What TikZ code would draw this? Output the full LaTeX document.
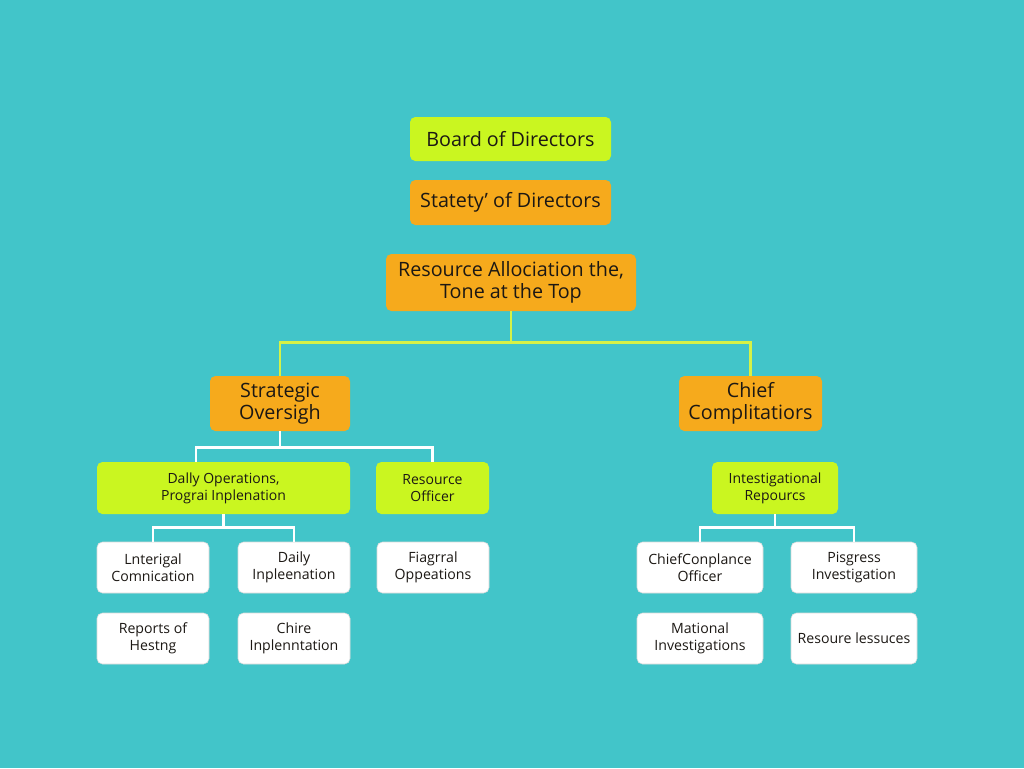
\documentclass[tikz,border=0pt]{standalone}
\usepackage{fontspec}
\setmainfont{Open Sans}
\definecolor{bg}{RGB}{66,197,201}
\definecolor{orng}{RGB}{246,170,28}
\definecolor{lime}{RGB}{202,246,32}
\definecolor{limeline}{RGB}{214,242,70}
\definecolor{txt}{RGB}{28,24,20}
\tikzset{
  bx/.style 2 args={rectangle, rounded corners=4pt, minimum width=#1*0.75pt, minimum height=#2*0.75pt, inner sep=1pt, align=center, text=txt},
  obox/.style={fill=orng},
  lbox/.style={fill=lime},
  wbox/.style={fill=white, draw=white!85!black, line width=0.4pt, font=\fontsize{10.6}{12.8}\selectfont},
  big/.style={font=\fontsize{14.8}{16.5}\selectfont},
  mid/.style={font=\fontsize{10.5}{12.8}\selectfont},
  yconn/.style={draw=limeline, line width=2.2pt},
  wconn/.style={draw=white, line width=2pt},
}
\begin{document}
\begin{tikzpicture}[x=0.75pt,y=-0.75pt]
\fill[bg] (0,0) rectangle (1024,768);
\useasboundingbox (0,0) rectangle (1024,768);
% top column
\node[bx={201}{44}, lbox, big] (board) at (510.5,139) {Board of Directors};
\node[bx={201}{45}, obox, big] (stat) at (510.5,202.5) {Statety' of Directors};
\node[bx={250}{57}, obox, big] (res) at (511,282.5) {Resource Allociation the,\\Tone at the Top};
% level 2
\node[bx={140}{55}, obox, big] (strat) at (280,403.5) {Strategic\\Oversigh};
\node[bx={143}{55}, obox, big] (chief) at (750.5,403.5) {Chief\\Complitatiors};
% level 3
\node[bx={253}{52}, lbox, mid] (daily) at (223.5,488) {Dally Operations,\\Prograi Inplenation};
\node[bx={113}{52}, lbox, mid] (resoff) at (432.5,488) {Resource\\Officer};
\node[bx={126}{52}, lbox, mid] (invest) at (775,488) {Intestigational\\Repourcs};
% level 4
\node[bx={112}{51}, wbox] (lnt) at (153,567.5) {Lnterigal\\Comnication};
\node[bx={112}{51}, wbox] (dimp) at (294,567.5) {Daily\\Inpleenation};
\node[bx={112}{51}, wbox] (fia) at (433,567.5) {Fiagrral\\Oppeations};
\node[bx={112}{51}, wbox] (rep) at (153,638.5) {Reports of\\Hestng};
\node[bx={112}{51}, wbox] (chire) at (294,638.5) {Chire\\Inplenntation};
\node[bx={126}{51}, wbox] (cco) at (700,567.5) {ChiefConplance\\Officer};
\node[bx={126}{51}, wbox] (pis) at (854,567.5) {Pisgress\\Investigation};
\node[bx={126}{51}, wbox] (mat) at (700,638.5) {Mational\\Investigations};
\node[bx={126}{51}, wbox] (rli) at (854,638.5) {Resoure lessuces};
% connectors
\coordinate (dl) at (196,462);
\draw[yconn] (res.south) -- ++(0,31) -| (strat.north);
\draw[yconn] (res.south) -- ++(0,31) -| (chief.north);
\draw[wconn] (strat.south) -- ++(0,16) -| (dl);
\draw[wconn] (strat.south) -- ++(0,16) -| (resoff.north);
\draw[wconn] (daily.south) -- ++(0,13) -| (lnt.north);
\draw[wconn] (daily.south) -- ++(0,13) -| (dimp.north);
\draw[wconn] (invest.south) -- ++(0,13) -| (cco.north);
\draw[wconn] (invest.south) -- ++(0,13) -| (pis.north);
\end{tikzpicture}
\end{document}
